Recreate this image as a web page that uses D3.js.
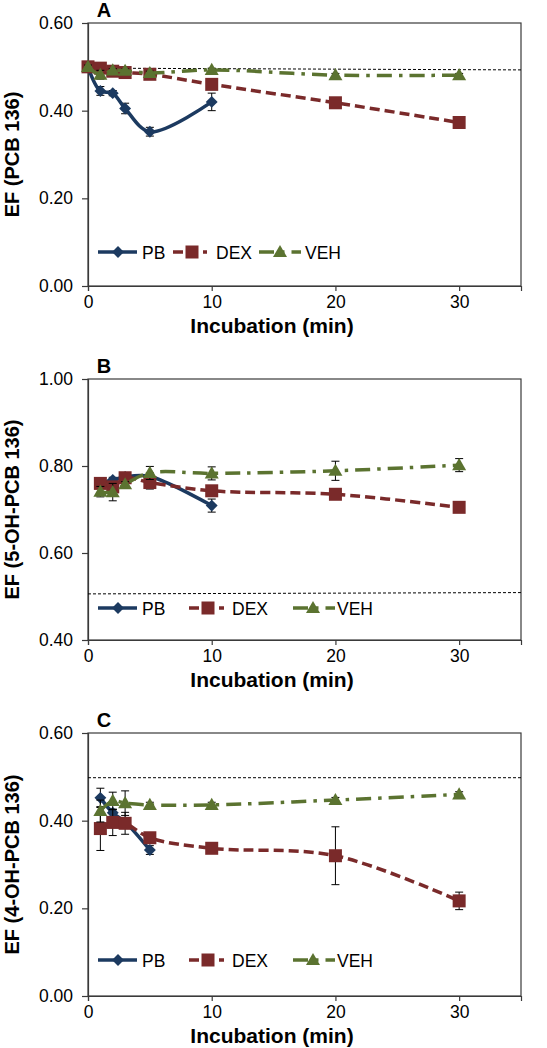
<!DOCTYPE html>
<html><head><meta charset="utf-8">
<script src="https://cdn.jsdelivr.net/npm/d3@7"></script>
<style>body{margin:0;background:#fff;} text{font-family:"Liberation Sans",Arial,sans-serif;}</style>
</head><body>
<svg id="c" width="547" height="1048"></svg>
<script>
// ---------- DATA ----------
const seriesNames = ["PB", "DEX", "VEH"];
const xTicks = [0, 10, 20, 30];
const yTicksA = [0, 0.2, 0.4, 0.6];
const yTicksB = [0.4, 0.6, 0.8, 1.0];
const yTicksC = [0, 0.2, 0.4, 0.6];

// Panel A : EF (PCB 136)
const aPBx = [0, 1, 2, 3, 5, 10];
const aPBy = [0.50, 0.445, 0.440, 0.405, 0.352, 0.420];
const aPBe = [0.004, 0.010, 0.006, 0.012, 0.010, 0.020];
const aDEXx = [0, 1, 2, 3, 5, 10, 20, 30];
const aDEXy = [0.500, 0.497, 0.490, 0.487, 0.483, 0.460, 0.418, 0.373];
const aDEXe = [0.004, 0.004, 0.004, 0.004, 0.005, 0.008, 0.006, 0.010];
const aVEHx = [0, 1, 2, 3, 5, 10, 20, 30];
const aVEHy = [0.500, 0.482, 0.492, 0.491, 0.486, 0.493, 0.481, 0.481];
const aVEHe = [0.004, 0.010, 0.004, 0.004, 0.004, 0.004, 0.004, 0.004];
const aRef = [0.497, 0.493];

// Panel B : EF (5-OH-PCB 136)
const bPBx = [1, 2, 3, 5, 10];
const bPBy = [0.760, 0.768, 0.775, 0.776, 0.709];
const bPBe = [0.008, 0.006, 0.006, 0.008, 0.015];
const bDEXx = [1, 2, 3, 5, 10, 20, 30];
const bDEXy = [0.760, 0.752, 0.773, 0.762, 0.743, 0.735, 0.705];
const bDEXe = [0.010, 0.010, 0.006, 0.015, 0.012, 0.006, 0.006];
const bVEHx = [1, 2, 3, 5, 10, 20, 30];
const bVEHy = [0.741, 0.740, 0.758, 0.784, 0.783, 0.789, 0.802];
const bVEHe = [0.012, 0.020, 0.006, 0.015, 0.015, 0.022, 0.015];
const bRef = [0.506, 0.509];

// Panel C : EF (4-OH-PCB 136)
const cPBx = [1, 2, 3, 5];
const cPBy = [0.452, 0.418, 0.397, 0.333];
const cPBe = [0.022, 0.008, 0.010, 0.010];
const cDEXx = [1, 2, 3, 5, 10, 20, 30];
const cDEXy = [0.382, 0.396, 0.394, 0.361, 0.337, 0.320, 0.217];
const cDEXe = [0.050, 0.030, 0.025, 0.008, 0.008, 0.066, 0.020];
const cVEHx = [1, 2, 3, 5, 10, 20, 30];
const cVEHy = [0.422, 0.445, 0.440, 0.436, 0.436, 0.447, 0.460];
const cVEHe = [0.025, 0.020, 0.028, 0.006, 0.006, 0.006, 0.006];
const cRef = [0.498, 0.498];

// ---------- STYLE ----------
const colors = {PB: "#1c3a60", DEX: "#7a2a2a", VEH: "#5b7330"};
const dashes = {PB: null, DEX: "10,5", VEH: "15,7,3.5,7"};

const svg = d3.select("#c");
const xDomain = [0, 35];

const panels = [
  {letter: "A", top: 23, bottom: 286, yDomain: [0, 0.6], yTicks: yTicksA, ylabel: "EF (PCB 136)",
   series: [[aPBx, aPBy, aPBe], [aDEXx, aDEXy, aDEXe], [aVEHx, aVEHy, aVEHe]], ref: aRef,
   legend: [[98, 137, 118, 142], [173, 207, 192, 216], [259, 301, 280, 305]], legY: 252},
  {letter: "B", top: 379, bottom: 640, yDomain: [0.4, 1.0], yTicks: yTicksB, ylabel: "EF (5-OH-PCB 136)",
   series: [[bPBx, bPBy, bPBe], [bDEXx, bDEXy, bDEXe], [bVEHx, bVEHy, bVEHe]], ref: bRef,
   legend: [[98, 137, 118, 142], [189, 224, 208, 232], [293, 335, 313, 337]], legY: 608},
  {letter: "C", top: 733, bottom: 996, yDomain: [0, 0.6], yTicks: yTicksC, ylabel: "EF (4-OH-PCB 136)",
   series: [[cPBx, cPBy, cPBe], [cDEXx, cDEXy, cDEXe], [cVEHx, cVEHy, cVEHe]], ref: cRef,
   legend: [[98, 137, 118, 142], [189, 224, 208, 232], [293, 335, 313, 337]], legY: 960}
];

const left = 88, right = 521;

function marker(g, name, cx, cy) {
  const c = colors[name];
  if (name === "PB") {
    g.append("rect").attr("x", -4.2).attr("y", -4.2).attr("width", 8.4).attr("height", 8.4)
      .attr("transform", `translate(${cx},${cy}) rotate(45)`).attr("fill", c);
  } else if (name === "DEX") {
    g.append("rect").attr("x", cx - 6.5).attr("y", cy - 6.5).attr("width", 13).attr("height", 13).attr("fill", c);
  } else {
    g.append("path").attr("d", d3.symbol(d3.symbolTriangle, 85)()).attr("transform", `translate(${cx},${cy + 1})`).attr("fill", c);
  }
}

panels.forEach(p => {
  const x = d3.scaleLinear().domain(xDomain).range([left, right]);
  const y = d3.scaleLinear().domain(p.yDomain).range([p.bottom, p.top]);
  const g = svg.append("g");

  g.append("rect").attr("x", left).attr("y", p.top).attr("width", right - left).attr("height", p.bottom - p.top)
    .attr("fill", "none").attr("stroke", "#3a3a3a").attr("stroke-width", 1.2);

  const ya = d3.axisLeft(y).tickValues(p.yTicks).tickFormat(d3.format(".2f")).tickSize(6).tickPadding(9);
  const yg = g.append("g").attr("transform", `translate(${left},0)`).call(ya);
  const xa = d3.axisBottom(x).tickValues(xTicks).tickFormat(d3.format("d")).tickSize(5).tickPadding(5);
  const xg = g.append("g").attr("transform", `translate(0,${p.bottom})`).call(xa);
  [yg, xg].forEach(a => {
    a.select(".domain").attr("stroke", "#3a3a3a").attr("stroke-width", 1.2);
    a.selectAll(".tick line").attr("stroke", "#3a3a3a").attr("stroke-width", 1.2);
    a.selectAll("text").attr("font-size", 17.5).attr("fill", "#000").attr("font-family", "Liberation Sans, Arial, sans-serif");
  });

  g.append("line").attr("x1", x(0)).attr("x2", x(35)).attr("y1", y(p.ref[0])).attr("y2", y(p.ref[1]))
    .attr("stroke", "#000").attr("stroke-width", 1).attr("stroke-dasharray", "3,2");

  g.append("text").attr("x", 104).attr("y", p.top - 6).attr("text-anchor", "middle")
    .attr("font-size", 20).attr("font-weight", "bold").text(p.letter);
  g.append("text").attr("transform", `translate(19,${(p.top + p.bottom) / 2}) rotate(-90)`)
    .attr("text-anchor", "middle").attr("font-size", 20).attr("font-weight", "bold").text(p.ylabel);
  g.append("text").attr("x", 272).attr("y", p.bottom + 47).attr("text-anchor", "middle")
    .attr("font-size", 21).attr("font-weight", "bold").text("Incubation (min)");

  p.series.forEach((s, i) => {
    const name = seriesNames[i];
    const pts = s[0].map((xv, k) => ({x: xv, y: s[1][k], e: s[2][k]}));
    const sg = g.append("g");
    pts.forEach(d => {
      const cx = x(d.x);
      sg.append("line").attr("x1", cx).attr("x2", cx).attr("y1", y(d.y - d.e)).attr("y2", y(d.y + d.e)).attr("stroke", "#000").attr("stroke-width", 1);
      [d.y - d.e, d.y + d.e].forEach(v => sg.append("line").attr("x1", cx - 4).attr("x2", cx + 4).attr("y1", y(v)).attr("y2", y(v)).attr("stroke", "#000").attr("stroke-width", 1));
    });
    const line = d3.line().x(d => x(d.x)).y(d => y(d.y)).curve(d3.curveCatmullRom.alpha(0.5));
    sg.append("path").datum(pts).attr("d", line).attr("fill", "none").attr("stroke", colors[name])
      .attr("stroke-width", 3.5).attr("stroke-dasharray", dashes[name]);
    pts.forEach(d => marker(sg, name, x(d.x), y(d.y)));
  });

  p.legend.forEach((l, i) => {
    const name = seriesNames[i];
    const lg = g.append("g");
    lg.append("line").attr("x1", l[0]).attr("x2", l[1]).attr("y1", p.legY).attr("y2", p.legY)
      .attr("stroke", colors[name]).attr("stroke-width", 3.5).attr("stroke-dasharray", dashes[name]);
    marker(lg, name, l[2], p.legY);
    lg.append("text").attr("x", l[3]).attr("y", p.legY + 6.5).attr("font-size", 17.5).text(name);
  });
});
</script>
</body></html>
